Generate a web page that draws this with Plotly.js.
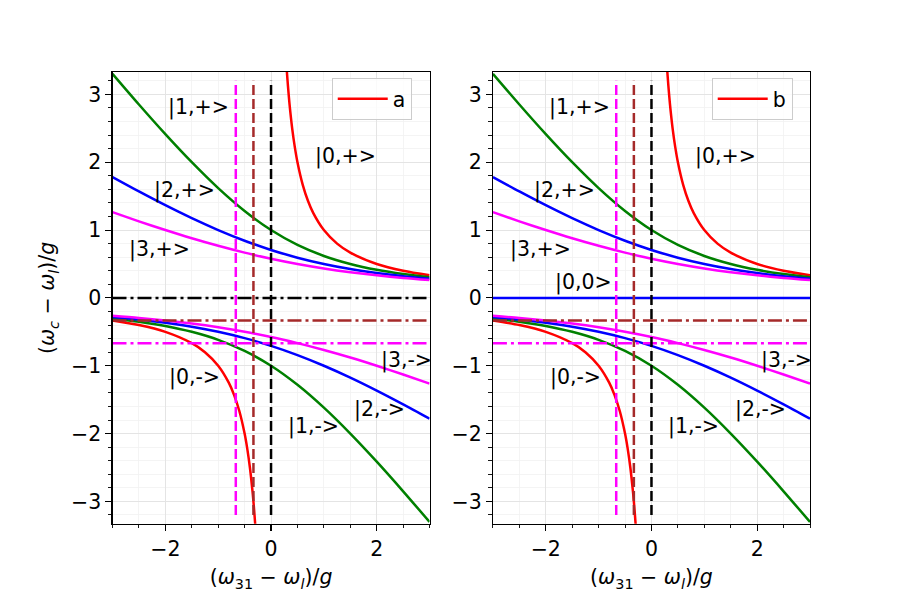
<!DOCTYPE html>
<html>
<head>
<meta charset="utf-8">
<script src="https://cdn.plot.ly/plotly-3.0.1.min.js"></script>
<style>
  html, body { margin: 0; padding: 0; background: #fff; }
  #chart { width: 900px; height: 600px; }
</style>
</head>
<body>
<div id="chart"></div>
<script>
// Detuning grid (ω31 − ωl)/g shared by the dressed-state branches
const detuning = [-3, -2.5, -2, -1.5, -1, -0.5, 0, 0.5, 1, 1.5, 2, 2.5, 3];

// Resonance positions (ωc − ωl)/g of the |n,±> branches
const n1Plus  = [3.303, 2.851, 2.414, 2.0, 1.618, 1.281, 1.0, 0.781, 0.618, 0.5, 0.414, 0.351, 0.303];
const n1Minus = [-0.303, -0.351, -0.414, -0.5, -0.618, -0.781, -1.0, -1.281, -1.618, -2.0, -2.414, -2.851, -3.303];
const n2Plus  = [1.781, 1.569, 1.366, 1.175, 1.0, 0.843, 0.707, 0.593, 0.5, 0.425, 0.366, 0.319, 0.281];
const n2Minus = [-0.281, -0.319, -0.366, -0.425, -0.5, -0.593, -0.707, -0.843, -1.0, -1.175, -1.366, -1.569, -1.781];
const n3Plus  = [1.264, 1.129, 1.0, 0.879, 0.768, 0.667, 0.577, 0.5, 0.434, 0.379, 0.333, 0.295, 0.264];
const n3Minus = [-0.264, -0.295, -0.333, -0.379, -0.434, -0.5, -0.577, -0.667, -0.768, -0.879, -1.0, -1.129, -1.264];

// n = 0 branches, sampled more densely near where they leave the frame
const n0PlusX  = [0.29, 0.3, 0.32, 0.35, 0.4, 0.45, 0.5, 0.6, 0.7, 0.8, 1.0, 1.25, 1.5, 2.0, 2.5, 3.0];
const n0PlusY  = [3.448, 3.333, 3.125, 2.857, 2.5, 2.222, 2.0, 1.667, 1.429, 1.25, 1.0, 0.8, 0.667, 0.5, 0.4, 0.333];
const n0MinusX = [-3.0, -2.5, -2.0, -1.5, -1.25, -1.0, -0.8, -0.7, -0.6, -0.5, -0.45, -0.4, -0.35, -0.32, -0.3, -0.29];
const n0MinusY = [-0.333, -0.4, -0.5, -0.667, -0.8, -1.0, -1.25, -1.429, -1.667, -2.0, -2.222, -2.5, -2.857, -3.125, -3.333, -3.448];

// Reference lines
const vlineX    = [-0.667, -0.333, 0.0];
const vlineSpan = [-3.2, 3.2];
const hlineY    = [-0.333, -0.667];
const zeroLine  = 0.0;
const xSpan     = [-3, 3];

// State labels
const stateLabels = ['|1,+>', '|2,+>', '|3,+>', '|0,+>', '|0,->', '|1,->', '|2,->', '|3,->'];
const labelX      = [-1.98, -2.26, -2.72, 0.79, -1.96, 0.28, 1.54, 2.04];
const labelY      = [2.81, 1.58, 0.71, 2.08, -1.17, -1.90, -1.64, -0.92];
const zeroStateLabel = '|0,0>';
const zeroStateX = -1.86;
const zeroStateY = 0.23;

const panelNames = ['a', 'b'];

const FONT = 'DejaVu Sans, Verdana, sans-serif';
const FS = 20.5;
const LW = 2.5;
const DASHDOT = '14px,4px,3px,4px';
const DASH = '10px,4px';

function esc(s) { return s.replace(/>/g, '&gt;').replace(/</g, '&lt;'); }

const traces = [];
const annotations = [];

[0, 1].forEach(function (p) {
  const xa = p === 0 ? 'x' : 'x2';
  const ya = p === 0 ? 'y' : 'y2';
  const leg = p === 0 ? 'legend' : 'legend2';

  function curve(x, y, color, extra) {
    traces.push(Object.assign({
      type: 'scatter', mode: 'lines', x: x, y: y, xaxis: xa, yaxis: ya,
      line: { color: color, width: LW, shape: 'spline', smoothing: 0.8 },
      showlegend: false, hoverinfo: 'skip', legend: leg
    }, extra || {}));
  }

  curve(n0PlusX, n0PlusY, '#ff0000', { name: panelNames[p], showlegend: true });
  curve(detuning, n1Plus, '#008000');
  curve(detuning, n2Plus, '#0000ff');
  curve(detuning, n3Plus, '#ff00ff');
  curve(n0MinusX, n0MinusY, '#ff0000');
  curve(detuning, n1Minus, '#008000');
  curve(detuning, n2Minus, '#0000ff');
  curve(detuning, n3Minus, '#ff00ff');

  // horizontal line at zero: dash-dot guide on the left, |0,0> level on the right
  if (p === 0) {
    traces.push({ type: 'scatter', mode: 'lines', x: xSpan, y: [zeroLine, zeroLine], xaxis: xa, yaxis: ya,
      line: { color: '#000000', width: LW, dash: DASHDOT }, showlegend: false, hoverinfo: 'skip' });
  } else {
    traces.push({ type: 'scatter', mode: 'lines', x: xSpan, y: [zeroLine, zeroLine], xaxis: xa, yaxis: ya,
      line: { color: '#0000ff', width: LW }, showlegend: false, hoverinfo: 'skip' });
  }

  const hColors = ['#a52a2a', '#ff00ff'];
  hlineY.forEach(function (yv, i) {
    traces.push({ type: 'scatter', mode: 'lines', x: xSpan, y: [yv, yv], xaxis: xa, yaxis: ya,
      line: { color: hColors[i], width: LW, dash: DASHDOT }, showlegend: false, hoverinfo: 'skip' });
  });

  const vColors = ['#ff00ff', '#a52a2a', '#000000'];
  vlineX.forEach(function (xv, i) {
    traces.push({ type: 'scatter', mode: 'lines', x: [xv, xv], y: vlineSpan, xaxis: xa, yaxis: ya,
      line: { color: vColors[i], width: LW, dash: DASH }, showlegend: false, hoverinfo: 'skip' });
  });

  stateLabels.forEach(function (t, i) {
    annotations.push({ xref: xa, yref: ya, x: labelX[i], y: labelY[i], text: esc(t),
      showarrow: false, xanchor: 'left', yanchor: 'middle',
      font: { family: FONT, size: FS, color: '#000' } });
  });
  if (p === 1) {
    annotations.push({ xref: xa, yref: ya, x: zeroStateX, y: zeroStateY, text: esc(zeroStateLabel),
      showarrow: false, xanchor: 'left', yanchor: 'middle',
      font: { family: FONT, size: FS, color: '#000' } });
  }
});

function xAxis(domain, anchor) {
  return {
    domain: domain, anchor: anchor, range: [-3, 3], dtick: 2, tick0: 0,
    ticks: 'outside', ticklen: 6, tickwidth: 1.1, tickcolor: '#000',
    showline: true, linecolor: '#000', linewidth: 1.1, mirror: true,
    showgrid: true, gridcolor: '#e4e4e4', gridwidth: 1, zeroline: false,
    minor: { dtick: 0.5, tick0: 0, ticks: 'outside', ticklen: 3.5, tickcolor: '#000', tickwidth: 0.9,
             showgrid: true, gridcolor: '#f1f1f1', gridwidth: 0.8 },
    tickfont: { family: FONT, size: FS, color: '#000' },
    title: { text: '(<i>ω</i><sub>31</sub> − <i>ω</i><sub><i>l</i></sub>)/<i>g</i>',
             font: { family: FONT, size: FS, color: '#000' }, standoff: 10 },
    automargin: false, fixedrange: true
  };
}
function yAxis(anchor, withTitle) {
  const a = {
    domain: [0.127, 0.88], anchor: anchor, range: [-3.33, 3.33], dtick: 1, tick0: 0,
    ticks: 'outside', ticklen: 6, tickwidth: 1.1, tickcolor: '#000',
    showline: true, linecolor: '#000', linewidth: 1.1, mirror: true,
    showgrid: true, gridcolor: '#e4e4e4', gridwidth: 1, zeroline: false,
    minor: { dtick: 0.2, tick0: 0, ticks: 'outside', ticklen: 3.5, tickcolor: '#000', tickwidth: 0.9,
             showgrid: true, gridcolor: '#f1f1f1', gridwidth: 0.8 },
    tickfont: { family: FONT, size: FS, color: '#000' },
    automargin: false, fixedrange: true
  };
  if (withTitle) {
    a.title = { text: '(<i>ω</i><sub><i>c</i></sub> − <i>ω</i><sub><i>l</i></sub>)/<i>g</i>',
                font: { family: FONT, size: FS, color: '#000' }, standoff: 10 };
  }
  return a;
}

const legendStyle = function (x) {
  return {
    x: x, y: 0.87, xanchor: 'left', yanchor: 'top',
    bgcolor: 'rgba(255,255,255,0.8)', bordercolor: '#cccccc', borderwidth: 1,
    itemwidth: 50,
    font: { family: FONT, size: FS, color: '#000' }
  };
};

const layout = {
  width: 900, height: 600,
  margin: { l: 0, r: 0, t: 0, b: 0 },
  paper_bgcolor: '#ffffff', plot_bgcolor: '#ffffff',
  xaxis: xAxis([0.125, 0.4773], 'y'),
  yaxis: yAxis('x', true),
  xaxis2: xAxis([0.5477, 0.9], 'y2'),
  yaxis2: yAxis('x2', false),
  legend: legendStyle(0.3686),
  legend2: legendStyle(0.7908),
  annotations: annotations,
  showlegend: true
};

Plotly.newPlot('chart', traces, layout, { displayModeBar: false, staticPlot: true });
</script>
</body>
</html>
